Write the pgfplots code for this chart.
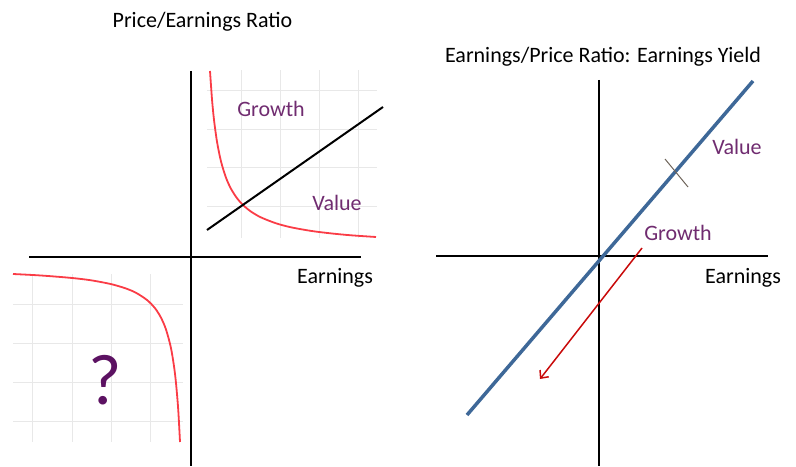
\documentclass[border=0pt]{standalone}
\usepackage{pgfplots}
\pgfplotsset{compat=1.18}
\usepackage{fontspec}
\setmainfont{Carlito}
\usetikzlibrary{arrows.meta}
\definecolor{gridc}{RGB}{232,232,232}
\definecolor{curvered}{RGB}{250,60,70}
\definecolor{arrowred}{RGB}{200,10,10}
\definecolor{blueline}{RGB}{62,104,152}
\definecolor{purp}{RGB}{112,44,112}
\definecolor{qpurp}{RGB}{92,18,98}
\definecolor{tickc}{RGB}{110,100,90}
\begin{document}
\begin{tikzpicture}
\begin{axis}[scale only axis, width=796bp, height=466bp,
  xmin=0, xmax=796, ymin=0, ymax=466, hide axis, clip=false,
  every axis plot/.append style={line join=round}]
% extent
\addplot[draw=none] coordinates {(0,0) (796,466)};
% ---- Q1 grid (left panel)
\addplot[gridc, line width=1bp] coordinates {(241,228) (241,396)};
\addplot[gridc, line width=1bp] coordinates {(280,228) (280,396)};
\addplot[gridc, line width=1bp] coordinates {(319,228) (319,396)};
\addplot[gridc, line width=1bp] coordinates {(358,228) (358,396)};
\addplot[gridc, line width=1bp] coordinates {(207,375) (377,375)};
\addplot[gridc, line width=1bp] coordinates {(207,336) (377,336)};
\addplot[gridc, line width=1bp] coordinates {(207,298) (377,298)};
\addplot[gridc, line width=1bp] coordinates {(207,259) (377,259)};
% ---- Q3 grid
\addplot[gridc, line width=1bp] coordinates {(32,24) (32,192)};
\addplot[gridc, line width=1bp] coordinates {(72,24) (72,192)};
\addplot[gridc, line width=1bp] coordinates {(111,24) (111,192)};
\addplot[gridc, line width=1bp] coordinates {(150,24) (150,192)};
\addplot[gridc, line width=1bp] coordinates {(13,161) (183,161)};
\addplot[gridc, line width=1bp] coordinates {(13,122) (183,122)};
\addplot[gridc, line width=1bp] coordinates {(13,83) (183,83)};
\addplot[gridc, line width=1bp] coordinates {(13,44) (183,44)};
% ---- left axes
\addplot[black, line width=2bp] coordinates {(29,209) (361,209)};
\addplot[black, line width=2bp] coordinates {(191,395) (191,0)};
% ---- Q1 red curve
\addplot[curvered, line width=1.8bp, smooth] coordinates {
(210,395) (212,366.7) (214,346.2) (217,324.3) (221,304.6) (226,288.3)
(231,277.2) (237,267.8) (243,261) (251,254.4) (261,248.6) (276,242.7)
(291,238.7) (311,235.1) (331,232.6) (351,230.7) (376,229)};
% ---- black line
\addplot[black, line width=2bp] coordinates {(207,236) (383,359)};
% ---- Q3 red curve
\addplot[curvered, line width=1.8bp, smooth] coordinates {
(13,192) (41,190.5) (71,188.1) (91,185.7) (111,181.9) (126,177.5)
(136,173.2) (147,166) (155,157.8) (161,148.3) (166,136.5) (171,117.8)
(175,92.2) (178,59.6) (180,24)};
% ---- right axes
\addplot[black, line width=2bp] coordinates {(436,210) (768,210)};
\addplot[black, line width=2bp] coordinates {(599,386) (599,0)};
% ---- blue line
\addplot[blueline, line width=3.5bp] coordinates {(467,51) (753,385)};
% ---- tick mark
\addplot[tickc, line width=1bp] coordinates {(665,307) (688,279)};
% ---- red arrow
\addplot[arrowred, line width=1.5bp, -{Straight Barb[length=6bp,width=11bp]}] coordinates {(642,218) (540,87)};
% ---- texts
\node[font=\fontsize{22bp}{26bp}\selectfont] at (axis cs:202.5,444) {Price/Earnings Ratio};
\node[font=\fontsize{22bp}{26bp}\selectfont] at (axis cs:603,409) {Earnings/Price Ratio: Earnings Yield};
\node[font=\fontsize{22bp}{26bp}\selectfont, text=purp] at (axis cs:271,357) {Growth};
\node[font=\fontsize{22bp}{26bp}\selectfont, text=purp] at (axis cs:337,263) {Value};
\node[font=\fontsize{22bp}{26bp}\selectfont] at (axis cs:335,188) {Earnings};
\node[font=\fontsize{72bp}{80bp}\selectfont, text=qpurp] at (axis cs:105,86) {?};
\node[font=\fontsize{22bp}{26bp}\selectfont, text=purp] at (axis cs:737,319) {Value};
\node[font=\fontsize{22bp}{26bp}\selectfont, text=purp] at (axis cs:678,233) {Growth};
\node[font=\fontsize{22bp}{26bp}\selectfont] at (axis cs:743,188) {Earnings};
\end{axis}
\end{tikzpicture}
\end{document}
